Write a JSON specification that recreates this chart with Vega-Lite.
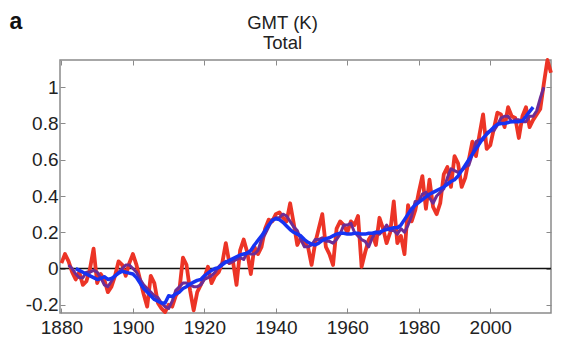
{
  "$schema": "https://vega.github.io/schema/vega-lite/v6.json",
  "width": 491,
  "height": 253,
  "autosize": {"type": "none"},
  "padding": {"left": 60, "top": 60, "right": 15, "bottom": 45},
  "background": "white",
  "config": {
    "font": "Liberation Sans",
    "view": {"stroke": "#8a8a8a", "strokeWidth": 1.5},
    "axis": {
      "domain": false,
      "grid": false,
      "ticks": true,
      "tickColor": "#8a8a8a",
      "tickWidth": 1,
      "tickSize": -5,
      "labelFont": "Liberation Sans",
      "labelFontSize": 19,
      "labelColor": "#222222"
    }
  },
  "datasets": {
    "red": [
      {"year": 1880, "v": 0.03}, {"year": 1881, "v": 0.08}, {"year": 1882, "v": 0.04}, {"year": 1883, "v": -0.02}, {"year": 1884, "v": -0.06},
      {"year": 1885, "v": -0.02}, {"year": 1886, "v": -0.09}, {"year": 1887, "v": -0.07}, {"year": 1888, "v": 0.0}, {"year": 1889, "v": 0.11},
      {"year": 1890, "v": -0.08}, {"year": 1891, "v": -0.03}, {"year": 1892, "v": -0.06}, {"year": 1893, "v": -0.13}, {"year": 1894, "v": -0.1},
      {"year": 1895, "v": -0.04}, {"year": 1896, "v": 0.04}, {"year": 1897, "v": 0.02}, {"year": 1898, "v": -0.04}, {"year": 1899, "v": 0.03},
      {"year": 1900, "v": 0.08}, {"year": 1901, "v": 0.02}, {"year": 1902, "v": -0.06}, {"year": 1903, "v": -0.14}, {"year": 1904, "v": -0.21},
      {"year": 1905, "v": -0.04}, {"year": 1906, "v": -0.08}, {"year": 1907, "v": -0.19}, {"year": 1908, "v": -0.22}, {"year": 1909, "v": -0.24},
      {"year": 1910, "v": -0.2}, {"year": 1911, "v": -0.21}, {"year": 1912, "v": -0.15}, {"year": 1913, "v": -0.12}, {"year": 1914, "v": 0.06},
      {"year": 1915, "v": 0.02}, {"year": 1916, "v": -0.12}, {"year": 1917, "v": -0.23}, {"year": 1918, "v": -0.13}, {"year": 1919, "v": -0.09},
      {"year": 1920, "v": -0.05}, {"year": 1921, "v": 0.01}, {"year": 1922, "v": -0.08}, {"year": 1923, "v": -0.04}, {"year": 1924, "v": -0.02},
      {"year": 1925, "v": 0.03}, {"year": 1926, "v": 0.14}, {"year": 1927, "v": 0.03}, {"year": 1928, "v": 0.04}, {"year": 1929, "v": -0.09},
      {"year": 1930, "v": 0.1}, {"year": 1931, "v": 0.16}, {"year": 1932, "v": 0.09}, {"year": 1933, "v": -0.03}, {"year": 1934, "v": 0.12},
      {"year": 1935, "v": 0.08}, {"year": 1936, "v": 0.12}, {"year": 1937, "v": 0.22}, {"year": 1938, "v": 0.27}, {"year": 1939, "v": 0.26},
      {"year": 1940, "v": 0.3}, {"year": 1941, "v": 0.31}, {"year": 1942, "v": 0.28}, {"year": 1943, "v": 0.26}, {"year": 1944, "v": 0.36},
      {"year": 1945, "v": 0.25}, {"year": 1946, "v": 0.13}, {"year": 1947, "v": 0.17}, {"year": 1948, "v": 0.14}, {"year": 1949, "v": 0.12},
      {"year": 1950, "v": 0.02}, {"year": 1951, "v": 0.14}, {"year": 1952, "v": 0.22}, {"year": 1953, "v": 0.3}, {"year": 1954, "v": 0.12},
      {"year": 1955, "v": 0.08}, {"year": 1956, "v": 0.02}, {"year": 1957, "v": 0.22}, {"year": 1958, "v": 0.26}, {"year": 1959, "v": 0.24},
      {"year": 1960, "v": 0.2}, {"year": 1961, "v": 0.26}, {"year": 1962, "v": 0.24}, {"year": 1963, "v": 0.29}, {"year": 1964, "v": 0.01},
      {"year": 1965, "v": 0.09}, {"year": 1966, "v": 0.16}, {"year": 1967, "v": 0.19}, {"year": 1968, "v": 0.13}, {"year": 1969, "v": 0.28},
      {"year": 1970, "v": 0.22}, {"year": 1971, "v": 0.14}, {"year": 1972, "v": 0.2}, {"year": 1973, "v": 0.37}, {"year": 1974, "v": 0.14},
      {"year": 1975, "v": 0.18}, {"year": 1976, "v": 0.08}, {"year": 1977, "v": 0.35}, {"year": 1978, "v": 0.26}, {"year": 1979, "v": 0.32},
      {"year": 1980, "v": 0.42}, {"year": 1981, "v": 0.51}, {"year": 1982, "v": 0.33}, {"year": 1983, "v": 0.49}, {"year": 1984, "v": 0.34},
      {"year": 1985, "v": 0.3}, {"year": 1986, "v": 0.36}, {"year": 1987, "v": 0.52}, {"year": 1988, "v": 0.56}, {"year": 1989, "v": 0.45},
      {"year": 1990, "v": 0.62}, {"year": 1991, "v": 0.58}, {"year": 1992, "v": 0.45}, {"year": 1993, "v": 0.5}, {"year": 1994, "v": 0.6},
      {"year": 1995, "v": 0.7}, {"year": 1996, "v": 0.62}, {"year": 1997, "v": 0.74}, {"year": 1998, "v": 0.85}, {"year": 1999, "v": 0.66},
      {"year": 2000, "v": 0.68}, {"year": 2001, "v": 0.77}, {"year": 2002, "v": 0.86}, {"year": 2003, "v": 0.85}, {"year": 2004, "v": 0.78},
      {"year": 2005, "v": 0.89}, {"year": 2006, "v": 0.84}, {"year": 2007, "v": 0.83}, {"year": 2008, "v": 0.72}, {"year": 2009, "v": 0.84},
      {"year": 2010, "v": 0.89}, {"year": 2011, "v": 0.78}, {"year": 2012, "v": 0.82}, {"year": 2013, "v": 0.85}, {"year": 2014, "v": 0.88},
      {"year": 2015, "v": 1.02}, {"year": 2016, "v": 1.15}, {"year": 2017, "v": 1.08}
    ],
    "purple": [
      {"year": 1882, "v": 0.02}, {"year": 1883, "v": 0.0}, {"year": 1884, "v": -0.03}, {"year": 1885, "v": -0.05}, {"year": 1886, "v": -0.05},
      {"year": 1887, "v": -0.02}, {"year": 1888, "v": -0.02}, {"year": 1889, "v": -0.01}, {"year": 1890, "v": -0.02}, {"year": 1891, "v": -0.05},
      {"year": 1892, "v": -0.09}, {"year": 1893, "v": -0.1}, {"year": 1894, "v": -0.07}, {"year": 1895, "v": -0.04}, {"year": 1896, "v": -0.02},
      {"year": 1897, "v": 0.0}, {"year": 1898, "v": 0.02}, {"year": 1899, "v": 0.02}, {"year": 1900, "v": 0.0}, {"year": 1901, "v": -0.02},
      {"year": 1902, "v": -0.06}, {"year": 1903, "v": -0.09}, {"year": 1904, "v": -0.11}, {"year": 1905, "v": -0.13}, {"year": 1906, "v": -0.15},
      {"year": 1907, "v": -0.16}, {"year": 1908, "v": -0.19}, {"year": 1909, "v": -0.21}, {"year": 1910, "v": -0.22}, {"year": 1911, "v": -0.18},
      {"year": 1912, "v": -0.12}, {"year": 1913, "v": -0.1}, {"year": 1914, "v": -0.08}, {"year": 1915, "v": -0.08}, {"year": 1916, "v": -0.09},
      {"year": 1917, "v": -0.1}, {"year": 1918, "v": -0.1}, {"year": 1919, "v": -0.09}, {"year": 1920, "v": -0.06}, {"year": 1921, "v": -0.05},
      {"year": 1922, "v": -0.04}, {"year": 1923, "v": -0.02}, {"year": 1924, "v": 0.01}, {"year": 1925, "v": 0.03}, {"year": 1926, "v": 0.04},
      {"year": 1927, "v": 0.03}, {"year": 1928, "v": 0.04}, {"year": 1929, "v": 0.05}, {"year": 1930, "v": 0.06}, {"year": 1931, "v": 0.05},
      {"year": 1932, "v": 0.09}, {"year": 1933, "v": 0.08}, {"year": 1934, "v": 0.08}, {"year": 1935, "v": 0.1}, {"year": 1936, "v": 0.16},
      {"year": 1937, "v": 0.19}, {"year": 1938, "v": 0.23}, {"year": 1939, "v": 0.27}, {"year": 1940, "v": 0.28}, {"year": 1941, "v": 0.28},
      {"year": 1942, "v": 0.3}, {"year": 1943, "v": 0.29}, {"year": 1944, "v": 0.26}, {"year": 1945, "v": 0.23}, {"year": 1946, "v": 0.21},
      {"year": 1947, "v": 0.16}, {"year": 1948, "v": 0.12}, {"year": 1949, "v": 0.12}, {"year": 1950, "v": 0.13}, {"year": 1951, "v": 0.16},
      {"year": 1952, "v": 0.16}, {"year": 1953, "v": 0.17}, {"year": 1954, "v": 0.15}, {"year": 1955, "v": 0.15}, {"year": 1956, "v": 0.14},
      {"year": 1957, "v": 0.16}, {"year": 1958, "v": 0.19}, {"year": 1959, "v": 0.24}, {"year": 1960, "v": 0.24}, {"year": 1961, "v": 0.25},
      {"year": 1962, "v": 0.2}, {"year": 1963, "v": 0.18}, {"year": 1964, "v": 0.16}, {"year": 1965, "v": 0.15}, {"year": 1966, "v": 0.12},
      {"year": 1967, "v": 0.17}, {"year": 1968, "v": 0.2}, {"year": 1969, "v": 0.19}, {"year": 1970, "v": 0.21}, {"year": 1971, "v": 0.24},
      {"year": 1972, "v": 0.21}, {"year": 1973, "v": 0.21}, {"year": 1974, "v": 0.19}, {"year": 1975, "v": 0.22}, {"year": 1976, "v": 0.2},
      {"year": 1977, "v": 0.24}, {"year": 1978, "v": 0.29}, {"year": 1979, "v": 0.37}, {"year": 1980, "v": 0.37}, {"year": 1981, "v": 0.41},
      {"year": 1982, "v": 0.42}, {"year": 1983, "v": 0.39}, {"year": 1984, "v": 0.36}, {"year": 1985, "v": 0.4}, {"year": 1986, "v": 0.42},
      {"year": 1987, "v": 0.44}, {"year": 1988, "v": 0.5}, {"year": 1989, "v": 0.55}, {"year": 1990, "v": 0.54}, {"year": 1991, "v": 0.53},
      {"year": 1992, "v": 0.54}, {"year": 1993, "v": 0.56}, {"year": 1994, "v": 0.57}, {"year": 1995, "v": 0.63}, {"year": 1996, "v": 0.7},
      {"year": 1997, "v": 0.71}, {"year": 1998, "v": 0.71}, {"year": 1999, "v": 0.75}, {"year": 2000, "v": 0.76}, {"year": 2001, "v": 0.76},
      {"year": 2002, "v": 0.79}, {"year": 2003, "v": 0.83}, {"year": 2004, "v": 0.84}, {"year": 2005, "v": 0.84}, {"year": 2006, "v": 0.81},
      {"year": 2007, "v": 0.82}, {"year": 2008, "v": 0.82}, {"year": 2009, "v": 0.81}, {"year": 2010, "v": 0.81}, {"year": 2011, "v": 0.84},
      {"year": 2012, "v": 0.84}, {"year": 2013, "v": 0.87}, {"year": 2014, "v": 0.94}, {"year": 2015, "v": 1.0}
    ],
    "blue": [
      {"year": 1884, "v": 0.0}, {"year": 1885, "v": -0.01}, {"year": 1886, "v": -0.02}, {"year": 1887, "v": -0.03}, {"year": 1888, "v": -0.04},
      {"year": 1889, "v": -0.05}, {"year": 1890, "v": -0.06}, {"year": 1891, "v": -0.055}, {"year": 1892, "v": -0.045}, {"year": 1893, "v": -0.06},
      {"year": 1894, "v": -0.055}, {"year": 1895, "v": -0.04}, {"year": 1896, "v": -0.025}, {"year": 1897, "v": -0.015}, {"year": 1898, "v": -0.02},
      {"year": 1899, "v": -0.025}, {"year": 1900, "v": -0.03}, {"year": 1901, "v": -0.05}, {"year": 1902, "v": -0.08}, {"year": 1903, "v": -0.11},
      {"year": 1904, "v": -0.13}, {"year": 1905, "v": -0.15}, {"year": 1906, "v": -0.17}, {"year": 1907, "v": -0.18}, {"year": 1908, "v": -0.19},
      {"year": 1909, "v": -0.19}, {"year": 1910, "v": -0.15}, {"year": 1911, "v": -0.155}, {"year": 1912, "v": -0.14}, {"year": 1913, "v": -0.13},
      {"year": 1914, "v": -0.11}, {"year": 1915, "v": -0.1}, {"year": 1916, "v": -0.085}, {"year": 1917, "v": -0.075}, {"year": 1918, "v": -0.065},
      {"year": 1919, "v": -0.06}, {"year": 1920, "v": -0.04}, {"year": 1921, "v": -0.025}, {"year": 1922, "v": -0.01}, {"year": 1923, "v": 0.0},
      {"year": 1924, "v": 0.005}, {"year": 1925, "v": 0.02}, {"year": 1926, "v": 0.035}, {"year": 1927, "v": 0.045}, {"year": 1928, "v": 0.055},
      {"year": 1929, "v": 0.065}, {"year": 1930, "v": 0.075}, {"year": 1931, "v": 0.08}, {"year": 1932, "v": 0.085}, {"year": 1933, "v": 0.1},
      {"year": 1934, "v": 0.13}, {"year": 1935, "v": 0.155}, {"year": 1936, "v": 0.18}, {"year": 1937, "v": 0.21}, {"year": 1938, "v": 0.24},
      {"year": 1939, "v": 0.265}, {"year": 1940, "v": 0.275}, {"year": 1941, "v": 0.27}, {"year": 1942, "v": 0.255}, {"year": 1943, "v": 0.235},
      {"year": 1944, "v": 0.215}, {"year": 1945, "v": 0.2}, {"year": 1946, "v": 0.19}, {"year": 1947, "v": 0.18}, {"year": 1948, "v": 0.16},
      {"year": 1949, "v": 0.145}, {"year": 1950, "v": 0.135}, {"year": 1951, "v": 0.13}, {"year": 1952, "v": 0.14}, {"year": 1953, "v": 0.155},
      {"year": 1954, "v": 0.165}, {"year": 1955, "v": 0.17}, {"year": 1956, "v": 0.18}, {"year": 1957, "v": 0.19}, {"year": 1958, "v": 0.195},
      {"year": 1959, "v": 0.195}, {"year": 1960, "v": 0.19}, {"year": 1961, "v": 0.19}, {"year": 1962, "v": 0.195}, {"year": 1963, "v": 0.195},
      {"year": 1964, "v": 0.19}, {"year": 1965, "v": 0.19}, {"year": 1966, "v": 0.195}, {"year": 1967, "v": 0.195}, {"year": 1968, "v": 0.2},
      {"year": 1969, "v": 0.2}, {"year": 1970, "v": 0.21}, {"year": 1971, "v": 0.215}, {"year": 1972, "v": 0.22}, {"year": 1973, "v": 0.225},
      {"year": 1974, "v": 0.225}, {"year": 1975, "v": 0.24}, {"year": 1976, "v": 0.27}, {"year": 1977, "v": 0.3}, {"year": 1978, "v": 0.33},
      {"year": 1979, "v": 0.35}, {"year": 1980, "v": 0.365}, {"year": 1981, "v": 0.38}, {"year": 1982, "v": 0.395}, {"year": 1983, "v": 0.41},
      {"year": 1984, "v": 0.42}, {"year": 1985, "v": 0.43}, {"year": 1986, "v": 0.44}, {"year": 1987, "v": 0.45}, {"year": 1988, "v": 0.465},
      {"year": 1989, "v": 0.48}, {"year": 1990, "v": 0.49}, {"year": 1991, "v": 0.51}, {"year": 1992, "v": 0.54}, {"year": 1993, "v": 0.57},
      {"year": 1994, "v": 0.6}, {"year": 1995, "v": 0.63}, {"year": 1996, "v": 0.66}, {"year": 1997, "v": 0.69}, {"year": 1998, "v": 0.72},
      {"year": 1999, "v": 0.74}, {"year": 2000, "v": 0.76}, {"year": 2001, "v": 0.78}, {"year": 2002, "v": 0.795}, {"year": 2003, "v": 0.8},
      {"year": 2004, "v": 0.8}, {"year": 2005, "v": 0.805}, {"year": 2006, "v": 0.81}, {"year": 2007, "v": 0.81}, {"year": 2008, "v": 0.81},
      {"year": 2009, "v": 0.815}, {"year": 2010, "v": 0.84}, {"year": 2011, "v": 0.865}, {"year": 2012, "v": 0.89}
    ]
  },
  "layer": [
    {
      "data": {"values": [{}]},
      "mark": {"type": "rule", "color": "#111111", "strokeWidth": 1.5},
      "encoding": {
        "y": {"datum": 0, "type": "quantitative", "scale": {"domain": [-0.245, 1.15], "nice": false, "zero": false}, "axis": null}
      }
    },
    {
      "data": {"name": "red"},
      "mark": {"type": "line", "color": "#ec3426", "strokeWidth": 3.8, "strokeJoin": "round"},
      "encoding": {
        "x": {
          "field": "year", "type": "quantitative",
          "scale": {"domain": [1879.6, 2017.0], "nice": false, "zero": false},
          "axis": {"orient": "bottom", "values": [1880, 1900, 1920, 1940, 1960, 1980, 2000], "format": "d", "labelPadding": 10, "title": null, "labelFlush": false}
        },
        "y": {
          "field": "v", "type": "quantitative",
          "scale": {"domain": [-0.245, 1.15], "nice": false, "zero": false},
          "axis": {
            "orient": "left", "values": [-0.2, 0, 0.2, 0.4, 0.6, 0.8, 1],
            "labelExpr": "replace(format(datum.value, '.1~f'), '\u2212', '-')",
            "labelPadding": 7,
            "title": "a", "titleAngle": 0, "titleFontSize": 23, "titleFontWeight": "bold", "titleColor": "#111111",
            "titleFont": "Liberation Sans", "titleAlign": "left", "titleBaseline": "alphabetic", "titleX": -51, "titleY": -32
          }
        }
      }
    },
    {
      "data": {"name": "purple"},
      "mark": {"type": "line", "color": "#6e2c94", "strokeWidth": 3, "strokeJoin": "round"},
      "encoding": {
        "x": {"field": "year", "type": "quantitative", "axis": null},
        "y": {"field": "v", "type": "quantitative", "axis": null}
      }
    },
    {
      "data": {"name": "blue"},
      "mark": {"type": "line", "color": "#1633f2", "strokeWidth": 3.5, "strokeJoin": "round"},
      "encoding": {
        "x": {
          "field": "year", "type": "quantitative",
          "axis": {
            "orient": "top", "values": [1880, 1900, 1920, 1940, 1960, 1980, 2000], "labels": false,
            "title": ["GMT (K)", "Total"], "titleFont": "Liberation Sans", "titleFontSize": 18.5, "titleFontWeight": "normal",
            "titleColor": "#222222", "titleAlign": "center", "titleBaseline": "bottom", "titleLineHeight": 20,
            "titleX": 222, "titleY": -28
          }
        },
        "y": {"field": "v", "type": "quantitative", "axis": {"orient": "right", "values": [-0.2, 0, 0.2, 0.4, 0.6, 0.8, 1], "labels": false, "title": null}}
      }
    }
  ],
  "resolve": {"axis": {"x": "independent", "y": "independent"}}
}
